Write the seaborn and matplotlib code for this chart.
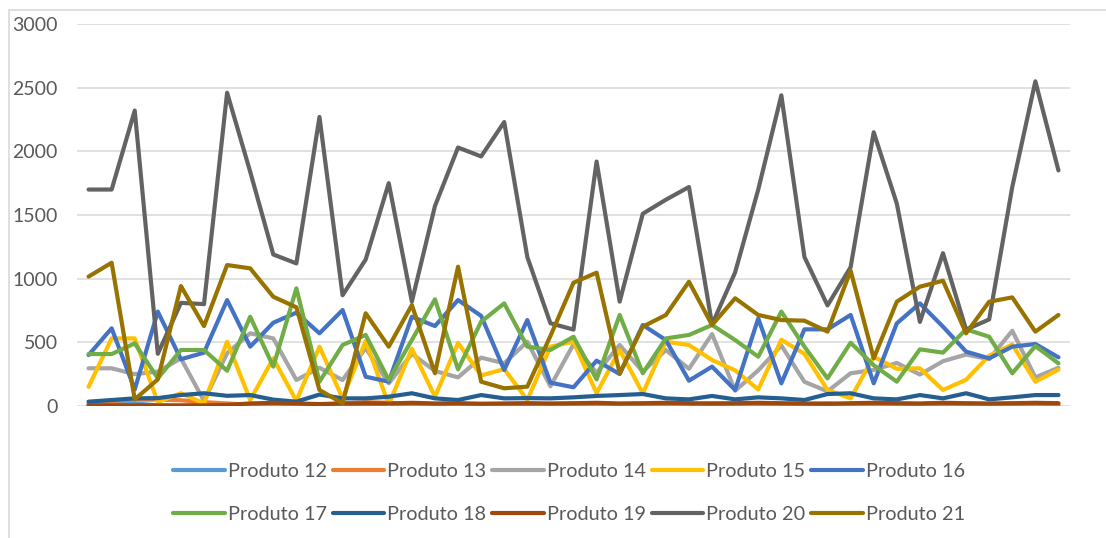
import numpy as np
import pandas as pd
import matplotlib
matplotlib.use("Agg")
import matplotlib.pyplot as plt
from matplotlib.lines import Line2D
from matplotlib.patches import Rectangle
import seaborn as sns

# Sales per period for each product (43 periods)
produtos = ["Produto 12", "Produto 13", "Produto 14", "Produto 15", "Produto 16",
            "Produto 17", "Produto 18", "Produto 19", "Produto 20", "Produto 21"]

p12 = [10, 15, 20, 5, 0, 10, 5, 0, 5, 0, 10, 5, 0, 0, 5, 10, 0, 0, 5, 10, 0, 5,
       0, 10, 5, 0, 5, 0, 10, 0, 5, 0, 0, 10, 5, 0, 0, 5, 0, 10, 0, 5, 0]
p13 = [20, 40, 50, 50, 45, 30, 20, 10, 15, 5, 10, 20, 30, 25, 10, 5, 5, 10, 15, 20, 10, 15,
       5, 5, 10, 15, 10, 20, 15, 5, 10, 15, 20, 10, 5, 10, 15, 20, 10, 5, 10, 15, 10]
p14 = [296, 296, 250, 270, 374, 40, 414, 571, 531, 204, 300, 204, 455, 178, 410, 275, 225,
       380, 335, 505, 155, 485, 260, 479, 270, 440, 292, 565, 120, 280, 475, 190, 115, 257,
       283, 338, 247, 352, 404, 368, 591, 225, 300]
p15 = [150, 531, 531, 30, 100, 20, 505, 47, 374, 40, 466, 60, 510, 10, 450, 73, 495, 240,
       290, 47, 466, 505, 100, 440, 100, 505, 479, 361, 280, 130, 520, 410, 126, 60, 387,
       292, 296, 126, 206, 395, 483, 191, 286]
p16 = [400, 610, 130, 741, 367, 419, 832, 466, 654, 733, 571, 754, 230, 191, 701, 628, 832,
       708, 283, 675, 183, 147, 356, 251, 636, 518, 199, 309, 126, 688, 178, 602, 602, 715,
       178, 649, 806, 623, 427, 374, 466, 487, 382]
p17 = [408, 408, 492, 217, 440, 440, 277, 701, 309, 924, 191, 479, 558, 204, 518, 838, 288,
       662, 806, 466, 440, 544, 209, 715, 257, 531, 558, 636, 518, 387, 741, 466, 217, 497,
       320, 191, 445, 419, 602, 544, 257, 471, 335]
p18 = [34, 47, 60, 62, 86, 100, 80, 86, 50, 34, 90, 60, 60, 73, 100, 60, 47, 86, 60, 62, 60,
       68, 79, 86, 94, 60, 52, 79, 52, 68, 60, 47, 94, 100, 60, 52, 86, 60, 100, 52, 68, 86, 86]
p19 = [5, 5, 5, 5, 5, 5, 8, 20, 25, 20, 15, 20, 22, 20, 25, 20, 22, 18, 20, 22, 20, 22,
       25, 20, 22, 25, 22, 20, 22, 25, 22, 20, 18, 22, 25, 22, 20, 25, 22, 20, 22, 25, 22]
p20 = [1700, 1700, 2320, 410, 810, 800, 2460, 1840, 1190, 1120, 2270, 870, 1150, 1750, 820,
       1570, 2030, 1960, 2230, 1170, 650, 600, 1920, 820, 1510, 1620, 1720, 640, 1050, 1700,
       2440, 1170, 790, 1090, 2150, 1590, 660, 1200, 600, 680, 1720, 2550, 1850]
p21 = [1016, 1125, 52, 209, 942, 628, 1107, 1081, 858, 775, 126, 21, 728, 466, 793, 257,
       1094, 191, 139, 152, 550, 968, 1047, 257, 623, 715, 976, 636, 846, 715, 675, 670, 584,
       1063, 374, 819, 937, 984, 571, 819, 853, 584, 715]

series = [p12, p13, p14, p15, p16, p17, p18, p19, p20, p21]
cores = ["#5B9BD5", "#ED7D31", "#A5A5A5", "#FFC000", "#4472C4",
         "#70AD47", "#255E91", "#9E480E", "#636363", "#997300"]
yticks = [0, 500, 1000, 1500, 2000, 2500, 3000]

registros = []
for nome, valores in zip(produtos, series):
    for i, v in enumerate(valores):
        registros.append({"periodo": i, "produto": nome, "valor": v})
df = pd.DataFrame(registros)

sns.set_style("white")
plt.rcParams["font.family"] = ["Lato", "DejaVu Sans"]
texto = "#595959"

W, H = 1106, 538
fig = plt.figure(figsize=(W / 100, H / 100), dpi=100)
ax = fig.add_axes([77 / W, 132 / H, 993 / W, 382 / H])

sns.lineplot(data=df, x="periodo", y="valor", hue="produto", hue_order=produtos,
             palette=dict(zip(produtos, cores)), linewidth=3.0, ax=ax,
             legend=False, sort=False)

n = len(p20)
ax.set_xlim(-0.5, n - 0.5)
ax.set_ylim(0, 3000)
ax.set_yticks(yticks)
ax.set_yticklabels([str(t) for t in yticks])
ax.set_xticks([])
ax.set_xlabel("")
ax.set_ylabel("")
ax.tick_params(axis="y", length=0, pad=14, labelsize=14, labelcolor=texto)
ax.grid(axis="y", color="#D9D9D9", linewidth=1.1)
ax.set_axisbelow(True)
for s in ax.spines.values():
    s.set_visible(False)

# Legend laid out in two rows, filled row by row
ordem = [0, 5, 1, 6, 2, 7, 3, 8, 4, 9]
handles = [Line2D([0], [0], color=cores[k], linewidth=3.0, solid_capstyle="round") for k in ordem]
labels = [produtos[k] for k in ordem]
leg = fig.legend(handles, labels, loc="center", bbox_to_anchor=(0.5145, 0.084), ncol=5,
                 frameon=False, handlelength=2.6, handletextpad=0.15, columnspacing=0.3,
                 labelspacing=1.3, fontsize=14.3)
for t in leg.get_texts():
    t.set_color(texto)

# Chart area border
fig.add_artist(Rectangle((9 / W, -0.1), 1.2, 1 - 10 / H + 0.1, transform=fig.transFigure,
                         fill=False, edgecolor="#D9D9D9", linewidth=1.2))

fig.savefig("out.png", dpi=100)
